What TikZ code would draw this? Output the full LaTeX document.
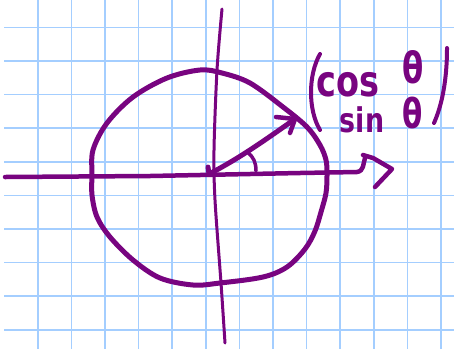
\documentclass[tikz,border=0pt]{standalone}
\usepackage{fontspec}
\newfontfamily\hand{DejaVu Sans}
\definecolor{pen}{RGB}{120,4,128}
\definecolor{gridblue}{RGB}{164,206,255}
\begin{document}
\begin{tikzpicture}[x=1pt,y=-1pt,line cap=round,line join=round]
\tikzset{
  gridline/.style={draw=gridblue,line width=1.6pt,line cap=butt},
  penline/.style={draw=pen,line width=5pt},
  handtext/.style={text=pen,inner sep=0pt,anchor=base,font=\hand\bfseries}
}
\useasboundingbox (0,0) rectangle (454,349);
\fill[white] (0,0) rectangle (454,349);
% grid paper
\foreach \k in {0,...,9}
  \draw[gridline] (4,{27.3+33.6*\k}) -- (454,{27.3+33.6*\k});
\foreach \k in {0,...,12}
  \draw[gridline] ({37.7+33.6*\k},0) -- ({37.7+33.6*\k},349);
% circle
\draw[penline] plot[smooth cycle,tension=0.55] coordinates {
  (92,175) (93,150) (107,123) (133,97) (167,78) (200,70) (222,73)
  (250,83) (283,107) (307,127) (320,145) (326,160) (327,175) (326,193)
  (321,212) (315,231) (305,249) (287,267) (263,277) (220,283) (193,285)
  (160,278) (133,260) (110,237) (97,217) (92,195)};
% horizontal axis
\coordinate (hstart) at (5,177);
\coordinate (hhook) at (365,158);
\draw[penline,line width=4.5pt] (hstart) -- (150,176) -- (300,173) -- (357,172)
  .. controls (364,171) and (363,164) .. (hhook);
\draw[penline,line width=4.5pt] (363,155) -- (373,158) -- (392,169) -- (375,187);
% vertical axis
\draw[penline,line width=3pt] plot[smooth,tension=0.5] coordinates {
  (222,9) (217,70) (214,150) (215,200) (221,283) (225,343)};
% vector
\coordinate (O) at (209,174);
\coordinate (tip) at (295,119);
\draw[penline] (208,167) -- (O) .. controls (240,158) and (265,140) .. (tip);
\draw[penline,line width=4.5pt] (276,117) -- (tip) -- (290,133);
% angle
\draw[penline,line width=3.5pt] (247,152) .. controls (254,157) and (256,163) .. (256,171);
% parentheses
\draw[penline,line width=4pt] (320,54) .. controls (308,75) and (308,110) .. (320,130);
\draw[penline,line width=4pt] (447,48) .. controls (447,80) and (442,105) .. (434,123);
% text
\node[handtext] (cosw) at (348,96) {\fontsize{43}{43}\selectfont\scalebox{0.78}[1]{cos}};
\node[handtext] (th1) at (413,83) {\fontsize{43}{43}\selectfont\scalebox{0.72}[1]{θ}};
\node[handtext] (sinw) at (362,132) {\fontsize{34}{34}\selectfont\scalebox{0.79}[1]{sin}};
\node[handtext] (th2) at (413,128) {\fontsize{41}{41}\selectfont\scalebox{0.72}[1]{θ}};
\end{tikzpicture}
\end{document}
